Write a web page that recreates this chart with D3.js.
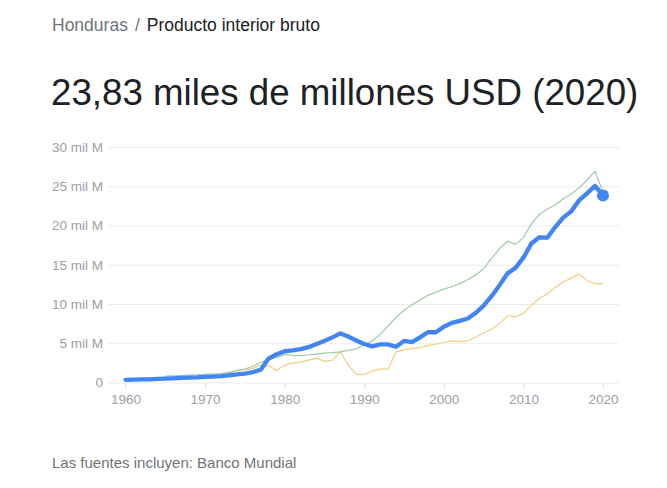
<!DOCTYPE html>
<html>
<head>
<meta charset="utf-8">
<script src="https://cdn.jsdelivr.net/npm/d3@7"></script>
<style>
  body { margin: 0; background: #fff; font-family: "Liberation Sans", Arial, sans-serif; }
</style>
</head>
<body>
<div class="container"></div>
<script>
// GDP in thousands of millions of USD, one value per year
var years = d3.range(1960, 2021);

var honduras = [
  0.34, 0.36, 0.39, 0.41, 0.46, 0.50, 0.53, 0.58, 0.63, 0.66,
  0.72, 0.76, 0.82, 0.92, 1.03, 1.12, 1.32, 1.62, 3.08, 3.60,
  3.98, 4.10, 4.25, 4.50, 4.90, 5.30, 5.75, 6.25, 5.85, 5.35,
  4.90, 4.60, 4.85, 4.85, 4.55, 5.30, 5.15, 5.75, 6.40, 6.40,
  7.10, 7.60, 7.85, 8.15, 8.85, 9.80, 11.0, 12.4, 13.9, 14.6,
  15.9, 17.7, 18.5, 18.45, 19.8, 21.0, 21.8, 23.2, 24.1, 25.05,
  23.83
];

// comparison series (green starts in 1965)
var salvador = [
  null, null, null, null, null, 0.80, 0.85, 0.89, 0.93, 0.98,
  1.03, 1.09, 1.14, 1.30, 1.53, 1.71, 2.07, 2.57, 2.90, 3.20,
  3.57, 3.44, 3.42, 3.50, 3.62, 3.75, 3.80, 3.90, 4.10, 4.30,
  4.80, 5.30, 6.10, 7.20, 8.30, 9.20, 9.90, 10.5, 11.1, 11.5,
  11.9, 12.2, 12.6, 13.1, 13.7, 14.5, 15.8, 17.05, 18.0, 17.6,
  18.45, 20.2, 21.4, 22.1, 22.6, 23.4, 24.0, 24.8, 25.8, 26.9,
  24.3
];

var nicaragua = [
  0.34, 0.37, 0.41, 0.45, 0.52, 0.57, 0.61, 0.66, 0.70, 0.76,
  0.78, 0.83, 0.90, 1.18, 1.57, 1.62, 1.80, 2.19, 2.13, 1.55,
  2.19, 2.50, 2.60, 2.85, 3.10, 2.70, 2.85, 3.90, 2.20, 1.02,
  1.00, 1.45, 1.70, 1.73, 3.90, 4.15, 4.35, 4.45, 4.70, 4.90,
  5.10, 5.30, 5.20, 5.30, 5.80, 6.30, 6.80, 7.50, 8.50, 8.35,
  8.80, 9.85, 10.7, 11.3, 12.1, 12.8, 13.3, 13.8, 13.0, 12.6,
  12.6
];

var yTicks = [0, 5, 10, 15, 20, 25, 30];
var yTickLabels = ["0", "5 mil M", "10 mil M", "15 mil M", "20 mil M", "25 mil M", "30 mil M"];
var xTicks = [1960, 1970, 1980, 1990, 2000, 2010, 2020];

var opts = { width: 667, height: 488, left: 108, right: 619, top: 147, bottom: 382.5 };

var svg = d3.select('.container').append('svg')
  .attr('width', opts.width)
  .attr('height', opts.height);

// header texts
var crumb = svg.append('text').attr('x', 52).attr('y', 31)
  .style('font-size', '17.5px');
crumb.append('tspan').attr('fill', '#70757a').text('Honduras');
crumb.append('tspan').attr('fill', '#70757a').attr('dx', 7).text('/');
crumb.append('tspan').attr('fill', '#202124').attr('dx', 7).text('Producto interior bruto');

svg.append('text').attr('x', 51).attr('y', 105)
  .attr('fill', '#202124')
  .style('font-size', '36.7px')
  .text('23,83 miles de millones USD (2020)');

svg.append('text').attr('x', 52).attr('y', 468)
  .attr('fill', '#70757a')
  .style('font-size', '15px')
  .text('Las fuentes incluyen: Banco Mundial');

// scales
var x = d3.scaleLinear().domain([1960, 2020]).range([125.5, 603]);
var y = d3.scaleLinear().domain([0, 30]).range([opts.bottom, opts.top]);

// y axis + gridlines
var yAxis = svg.append('g')
  .attr('transform', 'translate(' + opts.left + ',0)')
  .call(d3.axisLeft(y)
    .tickValues(yTicks)
    .tickFormat(function(d, i){ return yTickLabels[i]; })
    .tickSize(-(opts.right - opts.left))
    .tickPadding(5));
yAxis.select('.domain').remove();
yAxis.selectAll('line').attr('stroke', '#ebebeb');
yAxis.selectAll('text')
  .attr('fill', '#9aa0a6')
  .style('font-size', '13.5px')
  .style('font-family', '"Liberation Sans", Arial, sans-serif');

// x axis
var xAxis = svg.append('g')
  .attr('transform', 'translate(0,' + opts.bottom + ')')
  .call(d3.axisBottom(x)
    .tickValues(xTicks)
    .tickFormat(d3.format('d'))
    .tickSize(6)
    .tickPadding(6));
xAxis.select('.domain').remove();
xAxis.selectAll('line').attr('stroke', '#dadce0');
xAxis.selectAll('text')
  .attr('fill', '#9aa0a6')
  .style('font-size', '13.5px')
  .style('font-family', '"Liberation Sans", Arial, sans-serif');

// lines
var line = d3.line()
  .defined(function(d){ return d.v != null; })
  .x(function(d){ return x(d.year); })
  .y(function(d){ return y(d.v); });

function toPoints(values){
  return years.map(function(yr, i){ return { year: yr, v: values[i] }; });
}

svg.append('path').datum(toPoints(nicaragua))
  .attr('fill', 'none')
  .attr('stroke', '#f2cd84')
  .attr('stroke-width', 1.2)
  .attr('d', line);

svg.append('path').datum(toPoints(salvador))
  .attr('fill', 'none')
  .attr('stroke', '#9ccba4')
  .attr('stroke-width', 1.2)
  .attr('d', line);

svg.append('path').datum(toPoints(honduras))
  .attr('fill', 'none')
  .attr('stroke', '#4285f4')
  .attr('stroke-width', 4.3)
  .attr('stroke-linejoin', 'round')
  .attr('stroke-linecap', 'round')
  .attr('d', line);

// last value marker
svg.append('circle')
  .datum({ year: years[years.length - 1], v: honduras[honduras.length - 1] })
  .attr('cx', function(d){ return x(d.year); })
  .attr('cy', function(d){ return y(d.v); })
  .attr('r', 6)
  .attr('fill', '#4285f4');
</script>
</body>
</html>
